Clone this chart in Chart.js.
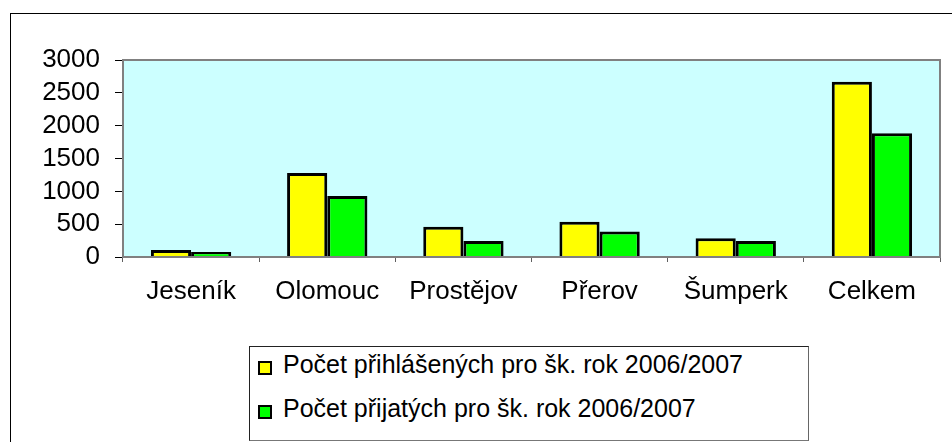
<!DOCTYPE html>
<html>
<head>
<meta charset="utf-8">
<script src="https://cdn.jsdelivr.net/npm/chart.js@4/dist/chart.umd.min.js"></script>
<style>
    body { margin: 0; background: #fff; font-family: "Liberation Sans", Arial, sans-serif; }
    #wrap { position: relative; width: 952px; height: 442px; overflow: hidden; }
    #frame { position: absolute; left: 10px; top: 13px; width: 1000px; height: 500px; border: 1px solid #000; }
    #chart { position: absolute; left: 0; top: 0; }
    #legend {
        position: absolute; left: 249px; top: 346px; width: 558px; height: 93px;
        border: 1px solid #222; border-right-color: #666; border-bottom-color: #777; background: #fff;
    }
    #legend .row { display: flex; align-items: center; height: 44px; padding-left: 8px; font-size: 25px; color: #000; white-space: nowrap; }
    #legend .row:first-child { margin-top: -5px; }
    #legend .box { width: 14px; height: 14px; box-sizing: border-box; border: 2px solid #000; margin-right: 11px; position: relative; top: 4px; }
</style>
</head>
<body>
<div id="wrap">
    <div id="frame"></div>
    <canvas id="chart" width="952" height="442"></canvas>
    <div id="legend"></div>
</div>
<script>
// Data
const okresy = ['Jeseník', 'Olomouc', 'Prostějov', 'Přerov', 'Šumperk', 'Celkem'];
const prihlaseni = [105, 1280, 460, 535, 285, 2670];
const prijati = [75, 930, 245, 390, 245, 1885];
const nazvySerii = ['Počet přihlášených pro šk. rok 2006/2007', 'Počet přijatých pro šk. rok 2006/2007'];
const barvy = ['#FFFF00', '#00FF00'];

// Pozadí a rámeček plochy grafu
const plotArea = {
    id: 'plotArea',
    beforeDatasetsDraw(chart) {
        const a = chart.chartArea, ctx = chart.ctx;
        ctx.save();
        ctx.fillStyle = '#CCFFFF';
        ctx.fillRect(a.left, a.top, a.right - a.left, a.bottom - a.top);
        ctx.restore();
    },
    afterDatasetsDraw(chart) {
        const a = chart.chartArea, ctx = chart.ctx;
        ctx.save();
        ctx.strokeStyle = '#808080';
        ctx.lineWidth = 2;
        ctx.strokeRect(a.left, a.top, a.right - a.left, a.bottom - a.top);
        ctx.restore();
    }
};

const font = { family: '"Liberation Sans", Arial, sans-serif', size: 26 };

const chart = new Chart(document.getElementById('chart'), {
    type: 'bar',
    data: {
        labels: okresy,
        datasets: [
            { label: nazvySerii[0], data: prihlaseni, backgroundColor: barvy[0] },
            { label: nazvySerii[1], data: prijati, backgroundColor: barvy[1] }
        ]
    },
    options: {
        responsive: false,
        animation: false,
        devicePixelRatio: 1,
        layout: { padding: { top: 60, right: 12, left: 0, bottom: 0 } },
        datasets: {
            bar: { borderColor: '#000', borderWidth: 3, borderSkipped: 'start', categoryPercentage: 0.59, barPercentage: 1 }
        },
        plugins: { legend: { display: false }, tooltip: { enabled: false } },
        scales: {
            x: {
                afterFit(scale) { scale.height = 185; },
                grid: { drawOnChartArea: false, tickLength: 5, color: '#606060' },
                border: { display: false },
                ticks: { font: font, color: '#000', padding: 14, maxRotation: 0, autoSkip: false }
            },
            y: {
                min: 0, max: 3000,
                afterFit(scale) { scale.width = 123; },
                grid: { drawOnChartArea: false, tickLength: 8, color: '#000' },
                border: { display: false },
                ticks: {
                    stepSize: 500, font: font, color: '#000', padding: 15, autoSkip: false,
                    callback: v => String(v)
                }
            }
        }
    },
    plugins: [plotArea]
});

// Legenda v rámečku pod grafem
const legend = document.getElementById('legend');
chart.data.datasets.forEach(ds => {
    const row = document.createElement('div');
    row.className = 'row';
    const box = document.createElement('span');
    box.className = 'box';
    box.style.background = ds.backgroundColor;
    row.appendChild(box);
    row.appendChild(document.createTextNode(ds.label));
    legend.appendChild(row);
});
</script>
</body>
</html>
